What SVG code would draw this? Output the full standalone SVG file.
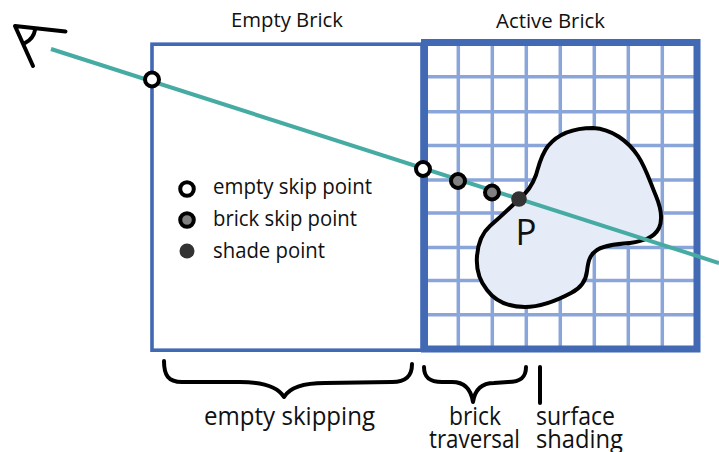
<svg xmlns="http://www.w3.org/2000/svg" width="719" height="452" viewBox="0 0 719 452">
<style>
text{font-family:"Open Sans","Noto Sans",sans-serif;fill:#111}
.lbl{font-size:25px}
.leg{font-size:21px}
.hdr{font-size:20px}
.ink{fill:none;stroke:#000;stroke-width:4;stroke-linecap:round;stroke-linejoin:round}
.grid{stroke:#8aa5d9;stroke-width:3.5;fill:none}
.empty{fill:#fff;stroke:#000;stroke-width:4}
.brick{fill:#808080;stroke:#000;stroke-width:4}
.shade{fill:#333}
</style>
<g id="empty-brick">
<rect x="152" y="44.2" width="270" height="306" fill="#fff" stroke="#4169b4" stroke-width="3.6"/>
<text class="hdr" x="231" y="27" textLength="112" lengthAdjust="spacingAndGlyphs">Empty Brick</text>
</g>
<g id="active-brick">
<path class="grid" d="M458.3 44V347M492.3 44V347M526.3 44V347M560.3 44V347M594.3 44V347M628.3 44V347M662.3 44V347M424 76.7H697M424 111.7H697M424 145.5H697M424 180H697M424 213H697M424 247.5H697M424 280.5H697M424 314.7H697"/>
<rect x="424.5" y="42.500" width="272.5" height="306.500" fill="none" stroke="#4169b4" stroke-width="7"/>
<text class="hdr" x="496" y="28" textLength="109" lengthAdjust="spacingAndGlyphs">Active Brick</text>
</g>
<g id="surface">
<path d="M519 199C527 193 532 186 536 175C539 165 541 155 548 146C558 134 574 128 593 128C612 129 628 141 638 156C646 168 650 182 656 196C661 208 663 219 659 228C654 238 643 241 630 243C618 244 605 245 597 250C589 255 588 263 587 271C586 281 581 288 571 293C556 301 540 307 525 307C510 307 496 302 487 290C479 280 476 268 477 256C478 243 482 233 490 226C498 219 510 208 519 199Z" fill="#e6ecf7" stroke="#000" stroke-width="4"/>
<text x="515.5" y="245" font-size="36" textLength="21" lengthAdjust="spacingAndGlyphs">P</text>
</g>
<g id="connectors">
<line x1="51" y1="49" x2="719" y2="263" stroke="#46aca3" stroke-width="4"/>
<path class="ink" d="M164 361C164 375 168 382 182 382L240 382C265 382 278 387 284 397C290 387 303 383 325 383L392 382C406 382 412 376 412 364"/>
<path class="ink" d="M424 367C424 378 430 382 442 382L452 382C464 382 471 389 473 402C475 389 482 383 494 383L508 382C520 382 526 378 526 367"/>
<line x1="540" y1="367" x2="540" y2="403" class="ink"/>
</g>
<g id="eye">
<path class="ink" d="M65.500 31.500L15 26L33 66M35 30C34 36 31 40 25 43"/>
</g>
<g id="point-1"><circle class="empty" cx="152" cy="79.500" r="7"/></g>
<g id="point-2"><circle class="empty" cx="423" cy="169" r="7"/></g>
<g id="point-3"><circle class="brick" cx="458" cy="181" r="7"/></g>
<g id="point-4"><circle class="brick" cx="492" cy="192.500" r="7"/></g>
<g id="point-5"><circle class="shade" cx="519" cy="199" r="7.800"/></g>
<g id="legend">
<circle class="empty" cx="187" cy="189" r="6.800"/>
<text class="leg" x="213" y="193.500" textLength="159" lengthAdjust="spacingAndGlyphs">empty skip point</text>
<circle class="brick" cx="187" cy="220" r="6.800"/>
<text class="leg" x="213" y="225.500" textLength="144" lengthAdjust="spacingAndGlyphs">brick skip point</text>
<circle class="shade" cx="187" cy="251" r="7.500"/>
<text class="leg" x="213" y="257.500" textLength="112" lengthAdjust="spacingAndGlyphs">shade point</text>
</g>
<g id="labels">
<text class="lbl" x="204" y="425" textLength="171" lengthAdjust="spacingAndGlyphs">empty skipping</text>
<text class="lbl"><tspan x="449" y="425" textLength="52" lengthAdjust="spacingAndGlyphs">brick</tspan><tspan x="429" y="448" textLength="91" lengthAdjust="spacingAndGlyphs">traversal</tspan></text>
<text class="lbl"><tspan x="536" y="425" textLength="79" lengthAdjust="spacingAndGlyphs">surface</tspan><tspan x="536" y="448" textLength="87" lengthAdjust="spacingAndGlyphs">shading</tspan></text>
</g>
</svg>
